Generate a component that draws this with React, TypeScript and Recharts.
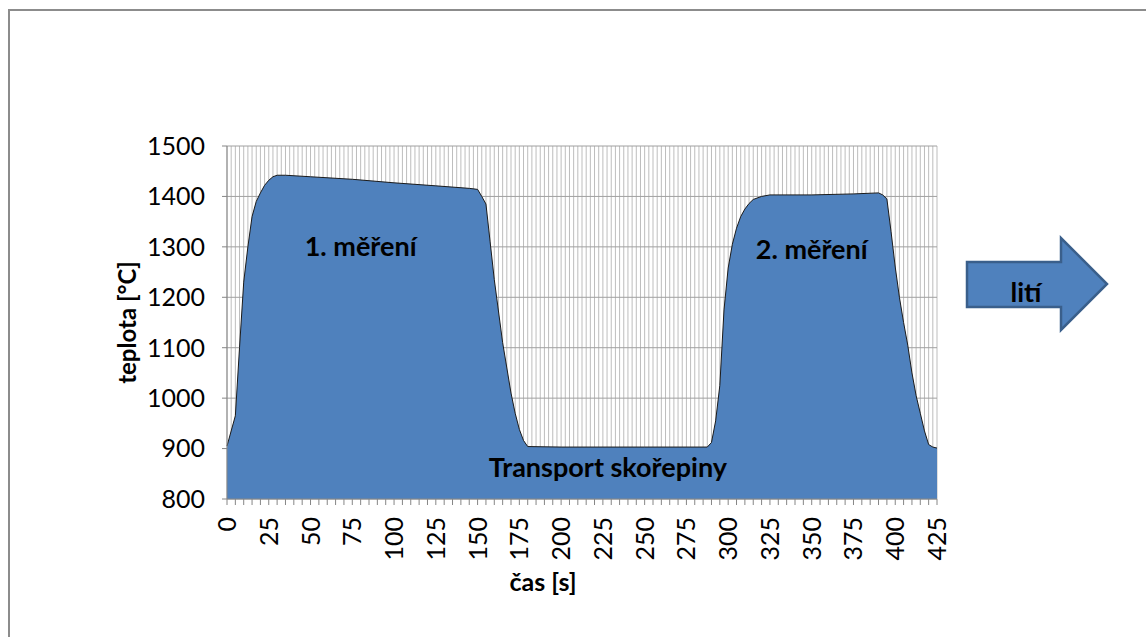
import React from "react";
import {
  AreaChart,
  Area,
  XAxis,
  YAxis,
  CartesianGrid,
  ReferenceDot,
} from "recharts";

// measured shell temperature over time
const times = [
  0, 5, 7.5, 10, 12.5, 15, 17.5, 20, 22.5, 25, 27.5, 30, 35, 50, 75, 100, 125, 145, 150,
  152.5, 155, 157.5, 160, 165, 170, 172.5, 175, 177.5, 180, 200, 250, 287.5,
  290, 292.5, 295, 297.5, 300, 302.5, 305, 307.5, 310, 312.5, 315, 320, 325, 350, 375,
  390, 392.5, 395, 397.5, 400, 402.5, 405, 407.5, 410, 412.5, 415, 417.5, 420, 422.5, 425,
];
const temps = [
  905, 965, 1100, 1230, 1300, 1360, 1390, 1407, 1422, 1432, 1439, 1442, 1442, 1439, 1434, 1427, 1421, 1416, 1414,
  1400, 1385, 1310, 1235, 1110, 1010, 970, 938, 916, 904, 903, 903, 903,
  912, 955, 1025, 1175, 1258, 1305, 1337, 1360, 1375, 1386, 1394, 1400, 1403, 1403, 1405,
  1407, 1403, 1395, 1330, 1260, 1200, 1150, 1105, 1050, 1005, 970, 935, 908, 903, 901,
];

const yTicks = [800, 900, 1000, 1100, 1200, 1300, 1400, 1500];
const xLabels = [0, 25, 50, 75, 100, 125, 150, 175, 200, 225, 250, 275, 300, 325, 350, 375, 400, 425];
const xMax = 425;

// tick marks every 5 s, grid columns every 2.5 s
const xTickMarks = Array.from({ length: xMax / 5 + 1 }, (_, i) => i * 5);
const gridTimes = Array.from({ length: xMax / 2.5 + 1 }, (_, i) => i * 2.5);

const data = times.map((t, i) => ({ t, temp: temps[i] }));

const FONT = "Lato, 'Open Sans', sans-serif";
const AXIS_GREY = "#868686";
const BLUE = "#4F81BD";

const XTick = (props: any) => {
  const { x, y, payload } = props;
  if (!xLabels.includes(payload.value)) return null;
  return (
    <text
      x={0}
      y={0}
      transform={`translate(${x},${y}) rotate(-90)`}
      textAnchor="end"
      dy="0.36em"
      fontSize={25}
      fontFamily={FONT}
      fill="#000"
    >
      {payload.value}
    </text>
  );
};

const Arrow = () => (
  <svg
    width={1146}
    height={637}
    style={{ position: "absolute", left: 0, top: 0, pointerEvents: "none" }}
  >
    <polygon
      points="967,262 1061,262 1061,238 1107,284 1061,330 1061,307 967,307"
      fill={BLUE}
      stroke="#3A5F8B"
      strokeWidth={2.5}
      strokeLinejoin="miter"
    />
    <text
      x={1026}
      y={291}
      textAnchor="middle"
      dominantBaseline="central"
      fontFamily={FONT}
      fontWeight={700}
      fontSize={27}
      fill="#000"
    >
      lití
    </text>
  </svg>
);

const noteStyle = {
  position: "center" as const,
  fontFamily: FONT,
  fontWeight: 700,
  fontSize: 27,
  fill: "#000",
};

export default function App() {
  return (
    <div
      style={{
        position: "absolute",
        left: 0,
        top: 0,
        width: 1146,
        height: 637,
        overflow: "hidden",
        background: "#fff",
      }}
    >
      <div
        style={{
          position: "absolute",
          left: 8,
          top: 9,
          width: 1400,
          height: 900,
          borderTop: "2px solid #8c8c8c",
          borderLeft: "2px solid #8c8c8c",
        }}
      />
      <AreaChart
        width={1146}
        height={637}
        data={data}
        margin={{ top: 146, right: 209, bottom: 0, left: 0 }}
        style={{ position: "absolute", left: 0, top: 0 }}
      >
        <CartesianGrid
          horizontal={false}
          stroke="#bdbdbd"
          strokeWidth={1}
          verticalCoordinatesGenerator={({ xAxis, offset }: any) => {
            const s = xAxis && xAxis.scale;
            return gridTimes.map((t) =>
              typeof s === "function" ? s(t) : offset.left + (t / xMax) * offset.width
            );
          }}
        />
        <CartesianGrid vertical={false} stroke="#a0a0a0" strokeWidth={1} />
        <XAxis
          dataKey="t"
          type="number"
          domain={[0, xMax]}
          ticks={xTickMarks}
          interval={0}
          height={138}
          tick={<XTick />}
          tickSize={6}
          tickMargin={12}
          stroke={AXIS_GREY}
          tickLine={{ stroke: AXIS_GREY }}
          axisLine={{ stroke: AXIS_GREY }}
          label={{
            value: "čas [s]",
            position: "insideBottom",
            offset: 46,
            dx: -39,
            fontFamily: FONT,
            fontWeight: 700,
            fontSize: 25,
            fill: "#000",
          }}
        />
        <YAxis
          type="number"
          domain={[800, 1500]}
          ticks={yTicks}
          interval={0}
          width={227}
          tickSize={5}
          tickMargin={17}
          tick={{ fontSize: 25, fontFamily: FONT, fill: "#000" }}
          tickLine={{ stroke: AXIS_GREY }}
          axisLine={{ stroke: AXIS_GREY }}
          label={{
            value: "teplota [°C]",
            angle: -90,
            position: "insideLeft",
            offset: 127,
            fontFamily: FONT,
            fontWeight: 700,
            fontSize: 24,
            fill: "#000",
            style: { textAnchor: "middle" },
          }}
        />
        <Area
          type="linear"
          dataKey="temp"
          fill={BLUE}
          fillOpacity={1}
          stroke="#1b1b1b"
          strokeWidth={1}
          isAnimationActive={false}
          dot={false}
          activeDot={false}
        />
        <ReferenceDot x={80} y={1300} r={0} label={{ value: "1. měření", ...noteStyle }} />
        <ReferenceDot x={350} y={1295} r={0} label={{ value: "2. měření", ...noteStyle }} />
        <ReferenceDot
          x={228}
          y={863}
          r={0}
          label={{ value: "Transport skořepiny", ...noteStyle }}
        />
      </AreaChart>
      <Arrow />
    </div>
  );
}
